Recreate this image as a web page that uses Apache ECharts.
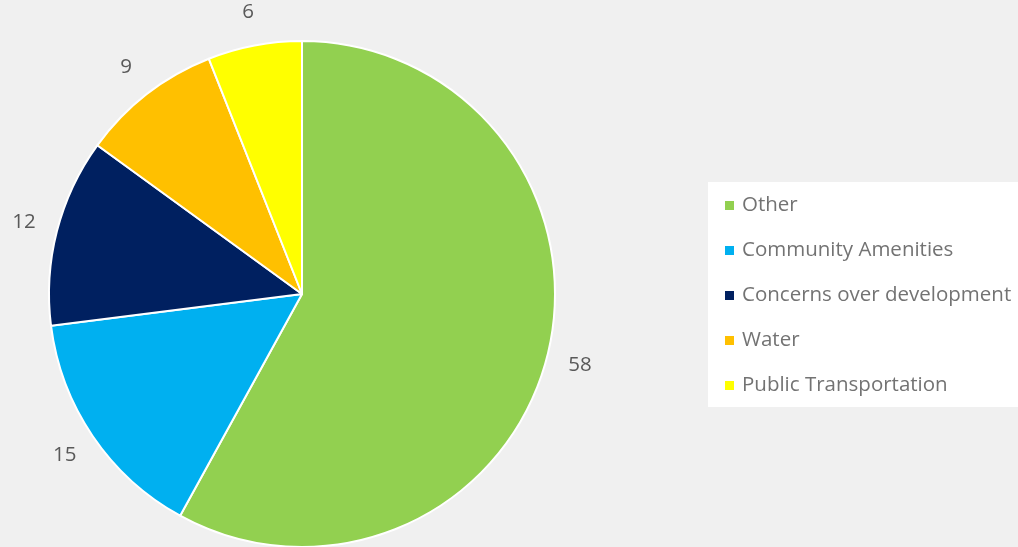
<!DOCTYPE html>
<html>
<head>
<meta charset="utf-8">
<script src="https://cdn.jsdelivr.net/npm/echarts@6/dist/echarts.min.js"></script>
<style>
    html, body { margin: 0; padding: 0; background: #f0f0f0; }
    #chart { width: 1018px; height: 547px; }
</style>
</head>
<body>
<div id="chart"></div>
<script>
// data
const categories = ['Other', 'Community Amenities', 'Concerns over development', 'Water', 'Public Transportation']
const values = [58, 15, 12, 9, 6]
const colors = ['#92d050', '#00b0f0', '#002060', '#ffc000', '#ffff00']

const pieData = categories.map((name, i) => ({ value: values[i], name: name }))

const chart = echarts.init(document.getElementById('chart'))
const option = {
    backgroundColor: '#f0f0f0',
    color: colors,
    textStyle: { fontFamily: 'Open Sans' },
    legend: {
        data: categories,
        orient: 'vertical',
        left: 708,
        top: 182,
        backgroundColor: '#ffffff',
        padding: [13, 8, 11, 15],
        icon: 'rect',
        itemWidth: 11,
        itemHeight: 11,
        itemGap: 24,
        selectedMode: false,
        textStyle: {
            color: '#737373',
            fontSize: 20.5,
            padding: [0, 0, 0, 2]
        }
    },
    series: [
        {
            type: 'pie',
            center: [302, 294],
            radius: 253,
            startAngle: 90,
            silent: true,
            itemStyle: {
                borderColor: '#ffffff',
                borderWidth: 2
            },
            label: { show: false },
            labelLine: { show: false },
            data: pieData
        },
        {
            // 只用来放数值标签
            type: 'pie',
            center: [302, 294],
            radius: [272, 296],
            startAngle: 90,
            silent: true,
            itemStyle: { color: 'rgba(0,0,0,0)' },
            label: {
                show: true,
                position: 'inside',
                formatter: '{c}',
                color: '#595959',
                fontSize: 20.5,
                fontFamily: 'Open Sans'
            },
            labelLine: { show: false },
            data: pieData
        }
    ]
}
chart.setOption(option)
window.addEventListener('resize', () => {
    chart.resize()
})
</script>
</body>
</html>
